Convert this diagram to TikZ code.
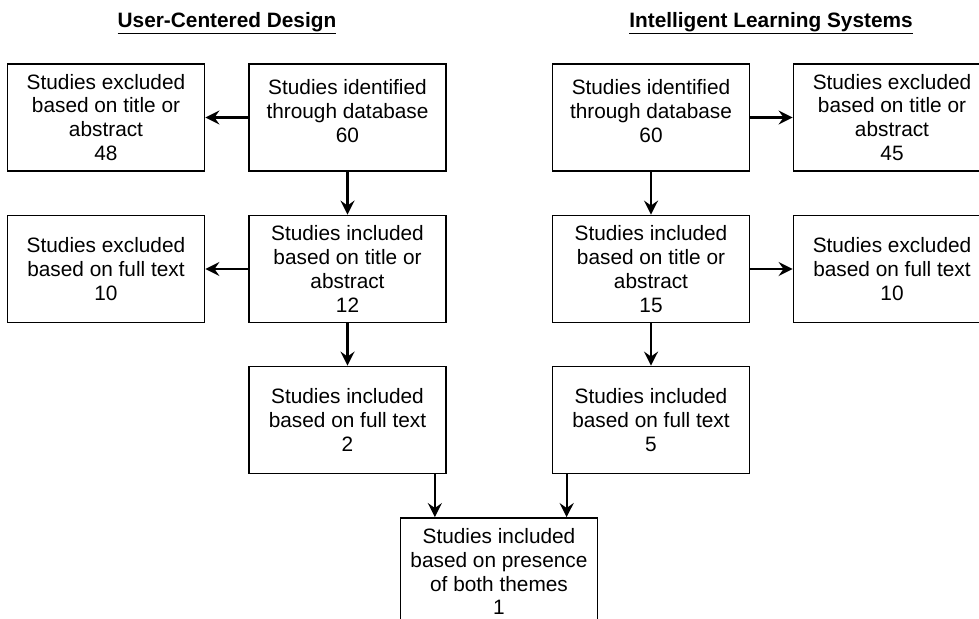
\documentclass[tikz,border=0pt]{standalone}
\usepackage{fontspec}
\setmainfont{Liberation Sans}
\usetikzlibrary{arrows.meta}

\begin{document}
\begin{tikzpicture}[x=0.025cm,y=-0.025cm,
  box/.style={draw,line width=1.2pt,minimum width=4.925cm,minimum height=2.675cm,
    align=center,inner sep=0pt,font=\fontsize{14.8}{17}\selectfont},
  arr/.style={line width=1.5pt,-{Stealth[length=10pt,width=10pt,inset=3.5pt]}},
  heading/.style={anchor=base,inner sep=0pt,font=\fontsize{14.8}{17}\selectfont\bfseries}]
\clip (0,0) rectangle (979,618);
\fill[white] (0,0) rectangle (979,618);
% headings
\node[heading] (ucd) at (227,27) {\underline{User-Centered Design}};
\node[heading] (ils) at (771,27) {\underline{Intelligent Learning Systems}};
% user-centered design
\node[box] (ucdid) at (347.5,117.5) {Studies identified\\through database\\60\\[-8pt]\mbox{}};
\node[box] (ucdexa) at (106,117.5) {Studies excluded\\based on title or\\abstract\\48};
\node[box] (ucdinc) at (347.5,269) {Studies included\\based on title or\\abstract\\12};
\node[box] (ucdexf) at (106,269) {Studies excluded\\based on full text\\10};
\node[box] (ucdfull) at (347.5,420) {Studies included\\based on full text\\2};
% intelligent learning systems
\node[box] (ilsid) at (651,117.5) {Studies identified\\through database\\60\\[-8pt]\mbox{}};
\node[box] (ilsexa) at (892,117.5) {Studies excluded\\based on title or\\abstract\\45};
\node[box] (ilsinc) at (651,269) {Studies included\\based on title or\\abstract\\15};
\node[box] (ilsexf) at (892,269) {Studies excluded\\based on full text\\10};
\node[box] (ilsfull) at (651,420) {Studies included\\based on full text\\5};
% both themes
\node[box] (both) at (499,571.5) {Studies included\\based on presence\\of both themes\\1};
% arrows
\draw[arr] (ucdid.west) -- (ucdexa.east);
\draw[arr] (ucdid.south) -- (ucdinc.north);
\draw[arr] (ucdinc.west) -- (ucdexf.east);
\draw[arr] (ucdinc.south) -- (ucdfull.north);
\draw[arr] (ilsid.east) -- (ilsexa.west);
\draw[arr] (ilsid.south) -- (ilsinc.north);
\draw[arr] (ilsinc.east) -- (ilsexf.west);
\draw[arr] (ilsinc.south) -- (ilsfull.north);
\draw[arr] ([xshift=-0.3cm]ucdfull.south east) -- ([xshift=-0.3cm]ucdfull.south east |- both.north);
\draw[arr] ([xshift=0.375cm]ilsfull.south west) -- ([xshift=0.375cm]ilsfull.south west |- both.north);
\end{tikzpicture}
\end{document}
